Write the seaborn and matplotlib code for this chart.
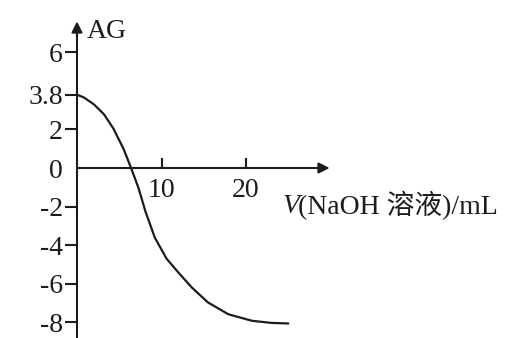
import matplotlib
matplotlib.use("Agg")
import matplotlib.pyplot as plt
import seaborn as sns
import pandas as pd

# Data
volume = [0, 0.8, 2.0, 3.2, 4.3, 5.5, 6.4, 7.26, 8.1, 9.2, 10.6, 12.0, 13.6, 15.5, 17.9, 20.7, 23.0, 25.0]
ag = [3.8, 3.66, 3.3, 2.78, 2.05, 1.0, 0.0, -1.01, -2.25, -3.6, -4.7, -5.42, -6.2, -6.97, -7.58, -7.92, -8.03, -8.06]
y_ticks = [-8, -6, -4, -2, 0, 2, 3.8, 6]
y_tick_labels = ["-8", "-6", "-4", "-2", "0", "2", "3.8", "6"]
x_ticks = [10, 20]
x_tick_labels = ["10", "20"]
x_label_var = "V"
x_label_rest = "(NaOH 溶液)/mL"
y_label = "AG"

sns.set_theme(style="white")
plt.rcParams["font.family"] = ["Liberation Serif", "Noto Sans CJK SC", "DejaVu Sans"]
plt.rcParams["axes.unicode_minus"] = False

ink = "#1c1c1c"
fs = 20

fig = plt.figure(figsize=(5.18, 3.38), dpi=100)
ax = fig.add_axes([0, 0, 1, 1])
ax.set_facecolor("white")

df = pd.DataFrame({"V": volume, "AG": ag})
sns.lineplot(data=df, x="V", y="AG", ax=ax, sort=False, color=ink, linewidth=1.6)

x0_px, xs = 77.0, 8.45
y0_px, ys = 168.0, 19.29
xmin, xmax = -x0_px / xs, (518 - x0_px) / xs
ymin, ymax = (y0_px - 338) / ys, y0_px / ys
ax.set_xlim(xmin, xmax)
ax.set_ylim(ymin, ymax)

for s in ["top", "right"]:
    ax.spines[s].set_visible(False)
ax.spines["left"].set_position(("data", 0))
ax.spines["bottom"].set_position(("data", 0))
ax.spines["left"].set_bounds(ymin, 7.0)
ax.spines["bottom"].set_bounds(0, 29.0)
for s in ["left", "bottom"]:
    ax.spines[s].set_color(ink)
    ax.spines[s].set_linewidth(1.5)

arrow = dict(arrowstyle="-|>", color=ink, lw=1.5, mutation_scale=16, shrinkA=0, shrinkB=0)
ax.annotate("", xy=(0, 7.6), xytext=(0, 6.8), arrowprops=arrow)
ax.annotate("", xy=(29.9, 0), xytext=(28.5, 0), arrowprops=arrow)

ax.set_yticks(y_ticks)
ax.set_yticklabels(y_tick_labels)
ax.set_xticks(x_ticks)
ax.set_xticklabels(x_tick_labels)
ax.tick_params(axis="y", direction="out", length=9, width=1.5, color=ink,
               labelsize=fs, labelcolor=ink, pad=1, left=True)
ax.tick_params(axis="x", direction="in", length=7, width=1.5, color=ink,
               labelsize=fs, labelcolor=ink, pad=7, bottom=True)
zero_idx = y_ticks.index(0)
ax.yaxis.get_major_ticks()[zero_idx].tick1line.set_visible(False)

ax.set_xlabel("")
ax.set_ylabel("")
ax.text(1.2, 7.1, y_label, fontsize=fs, color=ink, ha="left", va="center")
ax.text(24.3, -1.97, x_label_var, fontsize=fs, color=ink, ha="left", va="center",
        style="italic")
ax.text(26.2, -1.97, x_label_rest, fontsize=fs, color=ink, ha="left", va="center")

fig.savefig("out.png", dpi=100)
